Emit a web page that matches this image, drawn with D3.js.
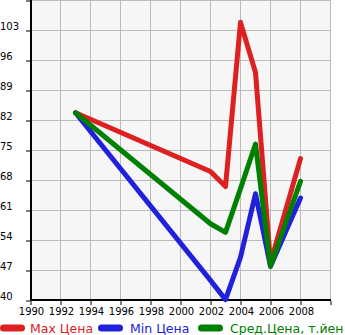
<!DOCTYPE html>
<html><head><meta charset="utf-8">
<script src="https://cdn.jsdelivr.net/npm/d3@7"></script>
<style>body{margin:0;background:#fff}svg{display:block}</style>
</head><body>
<script>
const years = [1993, 2002, 2003, 2004, 2005, 2006, 2008];
const maxPrice = [83.8, 70.1, 66.6, 104.9, 93.2, 48.8, 73.1];
const minPrice = [83.8, 44.7, 40.2, 50.1, 64.9, 48.0, 63.9];
const avgPrice = [83.8, 57.9, 55.9, 66.1, 76.5, 48.0, 67.8];
const yTicks = [40, 47, 54, 61, 68, 75, 82, 89, 96, 103, 110];
const xTicks = [1990, 1992, 1994, 1996, 1998, 2000, 2002, 2004, 2006, 2008, 2010];
const seriesNames = ["Max Цена", "Min Цена", "Сред.Цена, т.йен"];
const seriesColors = ["#dd2020", "#2020dd", "#008000"];

const W = 345, H = 335;
const svg = d3.select("body").append("svg").attr("width", W).attr("height", H);
const x = d3.scaleLinear().domain([1990, 2010]).range([30.5, 330.5]);
const y = d3.scaleLinear().domain([40, 110]).range([300.5, 0.5]);

svg.append("rect").attr("x", 31).attr("y", 0).attr("width", 300).attr("height", 300).attr("fill", "#f6f6f6");

const g = svg.append("g");
g.selectAll(".gx").data(xTicks.slice(1)).enter().append("line")
  .attr("x1", d => x(d)).attr("x2", d => x(d)).attr("y1", 0).attr("y2", 300)
  .attr("stroke", "#bbbbbb").attr("stroke-width", 1);
g.selectAll(".gy").data(yTicks.slice(1)).enter().append("line")
  .attr("x1", 31).attr("x2", 331).attr("y1", d => y(d)).attr("y2", d => y(d))
  .attr("stroke", "#bbbbbb").attr("stroke-width", 1);

// axes
const yAxis = d3.axisLeft(y).tickValues(yTicks).tickSize(4).tickFormat("");
const ya = svg.append("g").attr("transform", "translate(30,0)").call(yAxis);
ya.select(".domain").remove();
ya.selectAll("line").attr("stroke", "#000");
const xAxis = d3.axisBottom(x).tickValues(xTicks).tickSize(4).tickFormat("");
const xa = svg.append("g").attr("transform", "translate(0,301)").call(xAxis);
xa.select(".domain").remove();
xa.selectAll("line").attr("stroke", "#000");

svg.append("line").attr("x1", 31).attr("x2", 31).attr("y1", 0).attr("y2", 301).attr("stroke", "#000").attr("stroke-width", 2);
svg.append("line").attr("x1", 30).attr("x2", 331).attr("y1", 300).attr("y2", 300).attr("stroke", "#000").attr("stroke-width", 2);

svg.selectAll(".yl").data(yTicks.slice(0, -1)).enter().append("text")
  .attr("x", 0).attr("y", d => y(d) - 0.5).text(d => d)
  .attr("font-family", "DejaVu Sans").attr("font-size", 10).attr("fill", "#000");
svg.selectAll(".xl").data(xTicks.slice(0, -1)).enter().append("text")
  .attr("x", d => x(d) + 1).attr("y", 315).attr("text-anchor", "middle").text(d => d)
  .attr("font-family", "DejaVu Sans").attr("font-size", 10).attr("fill", "#000");

const line = d3.line().x(d => x(d[0])).y(d => y(d[1]));
[maxPrice, minPrice, avgPrice].forEach((vals, i) => {
  svg.append("path").datum(years.map((yr, j) => [yr, vals[j]]))
    .attr("d", line).attr("fill", "none").attr("stroke", seriesColors[i])
    .attr("stroke-width", 5).attr("stroke-linejoin", "round").attr("stroke-linecap", "round");
});

// legend
const legX = [3.5, 101.5, 201.5];
const legT = [30, 130, 230];
seriesNames.forEach((name, i) => {
  svg.append("line").attr("x1", legX[i]).attr("x2", legX[i] + 18).attr("y1", 328).attr("y2", 328)
    .attr("stroke", seriesColors[i]).attr("stroke-width", 7).attr("stroke-linecap", "round");
  svg.append("text").attr("x", legT[i]).attr("y", 333).text(name)
    .attr("font-family", "DejaVu Sans").attr("font-size", 12.5).attr("fill", seriesColors[i]);
});
</script>
</body></html>
